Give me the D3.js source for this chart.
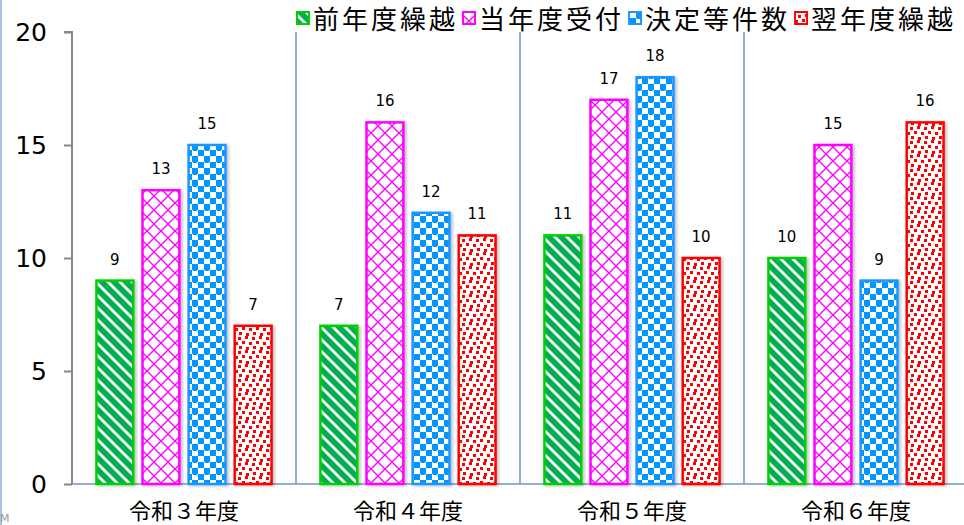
<!DOCTYPE html>
<html>
<head>
<meta charset="utf-8">
<script src="https://cdn.jsdelivr.net/npm/d3@7"></script>
<style>
  body { margin: 0; background: #fff; overflow: hidden; }
  svg { display: block; }
</style>
</head>
<body>
<svg width="964" height="525"></svg>
<script>
const svg = d3.select("svg"),
  width = +svg.attr("width"),
  height = +svg.attr("height");

// Data
const categories = ["令和３年度", "令和４年度", "令和５年度", "令和６年度"];
const seriesNames = ["前年度繰越", "当年度受付", "決定等件数", "翌年度繰越"];
const carriedIn = [9, 7, 11, 10];
const received = [13, 16, 17, 15];
const decided = [15, 12, 18, 9];
const carriedOut = [7, 11, 10, 16];
const yTicks = [0, 5, 10, 15, 20];

const seriesValues = [carriedIn, received, decided, carriedOut];

// Styles per series
const borders = ["#00d000", "#ff00ff", "#1e96ff", "#ff0000"];
const patternIds = ["pGreen", "pPink", "pBlue", "pRed"];

const margin = { top: 32, left: 72, bottom: 41 };
const plotRight = 968;

// Scales
const y = d3.scaleLinear().domain([0, 20]).range([height - margin.bottom, margin.top]);
const x0 = d3.scaleBand().domain(categories).range([margin.left, plotRight]);
const x1 = d3
  .scaleBand()
  .domain(seriesNames)
  .range([0, x0.bandwidth()])
  .paddingInner(0.2)
  .paddingOuter(0.53);

// Patterns
const defs = svg.append("defs");

const pg = defs.append("pattern").attr("id", "pGreen")
  .attr("patternUnits", "userSpaceOnUse").attr("width", 12).attr("height", 12);
pg.append("rect").attr("width", 12).attr("height", 12).attr("fill", "#fff");
pg.append("path")
  .attr("d", "M0,0 L4,0 L12,8 L12,12 L8,12 L0,4 Z M8,0 L12,0 L12,4 Z M0,8 L4,12 L0,12 Z")
  .attr("fill", "#00b050");

// trellis lattice
const pp = defs.append("pattern").attr("id", "pPink")
  .attr("patternUnits", "userSpaceOnUse").attr("width", 14).attr("height", 14);
pp.append("rect").attr("width", 14).attr("height", 14).attr("fill", "#fff");
pp.append("path")
  .attr("d", "M0,0 L7,7 L14,0 M0,14 L7,7 L14,14")
  .attr("stroke", "#ff00ff").attr("stroke-width", 1.3).attr("fill", "none");

const pb = defs.append("pattern").attr("id", "pBlue")
  .attr("patternUnits", "userSpaceOnUse").attr("width", 12).attr("height", 12);
pb.append("rect").attr("width", 12).attr("height", 12).attr("fill", "#fff");
pb.append("rect").attr("x", 0).attr("y", 0).attr("width", 6).attr("height", 6).attr("fill", "#0096ff");
pb.append("rect").attr("x", 6).attr("y", 6).attr("width", 6).attr("height", 6).attr("fill", "#0096ff");
pb.append("rect").attr("x", 1).attr("y", 5).attr("width", 4).attr("height", 2).attr("fill", "#0096ff");
pb.append("rect").attr("x", 7).attr("y", 11).attr("width", 4).attr("height", 2).attr("fill", "#0096ff");

const pr = defs.append("pattern").attr("id", "pRed")
  .attr("patternUnits", "userSpaceOnUse").attr("width", 14).attr("height", 14);
pr.append("rect").attr("width", 14).attr("height", 14).attr("fill", "#fff");
[[0, 1], [7, 0], [4, 5], [11, 6], [1, 10], [8, 11]].forEach(([a, b]) => {
  pr.append("rect").attr("x", a).attr("y", b).attr("width", 3).attr("height", 3).attr("fill", "#ff0000");
});

const shadow = defs.append("filter").attr("id", "shadow")
  .attr("x", "-20%").attr("y", "-10%").attr("width", "150%").attr("height", "130%");
shadow.append("feDropShadow")
  .attr("dx", 2).attr("dy", 1).attr("stdDeviation", 1.5)
  .attr("flood-color", "#000").attr("flood-opacity", 0.25);

// Left page edge line
svg.append("line")
  .attr("x1", 1).attr("x2", 1).attr("y1", 0).attr("y2", height)
  .attr("stroke", "#a9c4e2").attr("stroke-width", 2);

svg.append("text")
  .attr("x", 0).attr("y", 522)
  .attr("font-family", "DejaVu Sans").attr("font-size", 11)
  .attr("fill", "#999").text("M");

// Category dividers
svg.append("g")
  .selectAll("line")
  .data(categories.slice(1))
  .join("line")
  .attr("x1", d => x0(d)).attr("x2", d => x0(d))
  .attr("y1", y(20)).attr("y2", y(0))
  .attr("stroke", "#6f95c8").attr("stroke-width", 1.5);

// Baseline
svg.append("line")
  .attr("x1", margin.left).attr("x2", width)
  .attr("y1", y(0)).attr("y2", y(0))
  .attr("stroke", "#6f95c8").attr("stroke-width", 1.5);

// Y axis
const yAxis = svg.append("g")
  .attr("transform", `translate(${margin.left},0)`)
  .call(d3.axisLeft(y).tickValues(yTicks).tickSize(8).tickPadding(17));
yAxis.select(".domain").attr("stroke", "#888").attr("stroke-width", 2)
  .attr("d", `M-8,${y(20)}H0V${y(0)}`);
yAxis.selectAll(".tick line").attr("stroke", "#888").attr("stroke-width", 2);
yAxis.selectAll(".tick text")
  .attr("font-family", "DejaVu Sans").attr("font-size", 25).attr("fill", "#000");

// X labels
svg.append("g")
  .selectAll("text")
  .data(categories)
  .join("text")
  .attr("x", d => x0(d) + x0.bandwidth() / 2)
  .attr("y", 519)
  .attr("text-anchor", "middle")
  .attr("font-family", "Noto Sans CJK JP").attr("font-size", 22)
  .attr("fill", "#000")
  .text(d => d);

// Bars
const rows = [];
categories.forEach((c, i) => {
  seriesNames.forEach((s, j) => {
    rows.push({ cat: c, series: s, j: j, value: seriesValues[j][i] });
  });
});

svg.append("g")
  .selectAll("rect")
  .data(rows)
  .join("rect")
  .attr("x", d => x0(d.cat) + x1(d.series))
  .attr("y", d => y(d.value))
  .attr("width", x1.bandwidth())
  .attr("height", d => y(0) - y(d.value))
  .attr("fill", d => `url(#${patternIds[d.j]})`)
  .attr("stroke", d => borders[d.j])
  .attr("stroke-width", 2.5)
  .attr("filter", "url(#shadow)");

// Value labels
svg.append("g")
  .selectAll("text")
  .data(rows)
  .join("text")
  .attr("x", d => x0(d.cat) + x1(d.series) + x1.bandwidth() / 2)
  .attr("y", d => y(d.value) - 16)
  .attr("text-anchor", "middle")
  .attr("font-family", "DejaVu Sans").attr("font-size", 15)
  .attr("fill", "#000")
  .text(d => d.value);

// Legend
const legend = svg.append("g").attr("class", "legend");
let lx = 297;
seriesNames.forEach((s, j) => {
  legend.append("rect")
    .attr("x", lx).attr("y", 12).attr("width", 12).attr("height", 12)
    .attr("fill", `url(#${patternIds[j]})`)
    .attr("stroke", borders[j]).attr("stroke-width", 2);
  const t = legend.append("text")
    .attr("x", lx + 16).attr("y", 29)
    .attr("font-family", "Noto Sans CJK JP").attr("font-size", 26)
    .attr("letter-spacing", 3)
    .attr("fill", "#000")
    .text(s);
  lx += 16 + t.node().getComputedTextLength() + 5;
});
</script>
</body>
</html>
